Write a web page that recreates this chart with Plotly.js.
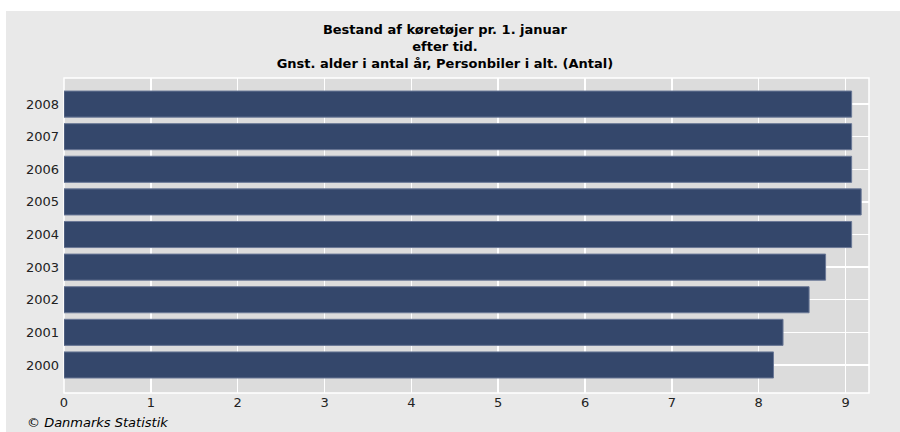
<!DOCTYPE html>
<html>
<head>
<meta charset="utf-8">
<script src="https://cdn.plot.ly/plotly-3.0.1.min.js"></script>
<style>
html,body{margin:0;padding:0;background:#ffffff;width:900px;height:432px;overflow:hidden;}
#chart{position:absolute;left:6px;top:11px;width:894px;height:421px;}
</style>
</head>
<body>
<div id="chart"></div>
<script>
const years = ["2000","2001","2002","2003","2004","2005","2006","2007","2008"];
const avgAge = [8.17, 8.28, 8.58, 8.77, 9.07, 9.18, 9.07, 9.07, 9.07];
const xTicks = [0,1,2,3,4,5,6,7,8,9];
const titleText = "Bestand af køretøjer pr. 1. januar<br>efter tid.<br>Gnst. alder i antal år, Personbiler i alt. (Antal)";
const footerText = "© Danmarks Statistik";

const trace = {
  type: "bar",
  orientation: "h",
  x: avgAge,
  y: years,
  width: 0.8,
  marker: {color: "#34476b", line: {color: "#6a7896", width: 1}},
  hoverinfo: "x+y"
};

const layout = {
  width: 894, height: 421,
  paper_bgcolor: "#e9e9e9",
  plot_bgcolor: "#dcdcdc",
  margin: {l: 58, r: 31, t: 67, b: 39},
  showlegend: false,
  font: {family: "DejaVu Sans, Verdana, sans-serif", size: 13, color: "#222222"},
  title: {
    text: titleText,
    font: {family: "DejaVu Sans, Verdana, sans-serif", size: 13, color: "#000000", weight: "bold"},
    xref: "container", x: 0.491, xanchor: "center",
    yref: "container", y: 0.9455, yanchor: "middle"
  },
  xaxis: {
    range: [0, 9.27],
    tickvals: xTicks,
    ticktext: xTicks.map(String),
    showgrid: true, gridcolor: "#ffffff", gridwidth: 1.5,
    zeroline: false, showline: false, ticks: "",
    tickfont: {size: 13, color: "#222222"}
  },
  yaxis: {
    type: "category",
    categoryorder: "array", categoryarray: years,
    range: [-0.86, 8.8],
    showgrid: true, gridcolor: "#ffffff", gridwidth: 1.5,
    zeroline: false, showline: false, ticks: "",
    ticklabelstandoff: 4,
    tickfont: {size: 13, color: "#222222"}
  },
  shapes: [{
    type: "rect", xref: "paper", yref: "paper", x0: 0, x1: 1, y0: 0, y1: 1,
    line: {color: "#ffffff", width: 1.5}, layer: "below"
  }],
  annotations: [{
    text: footerText, xref: "paper", yref: "paper",
    x: -0.049, xanchor: "left", y: -0.094, yanchor: "middle",
    showarrow: false,
    font: {family: "DejaVu Sans, Verdana, sans-serif", size: 13, color: "#000000", style: "italic"}
  }]
};

Plotly.newPlot("chart", [trace], layout, {displayModeBar: false, staticPlot: true});
</script>
</body>
</html>
